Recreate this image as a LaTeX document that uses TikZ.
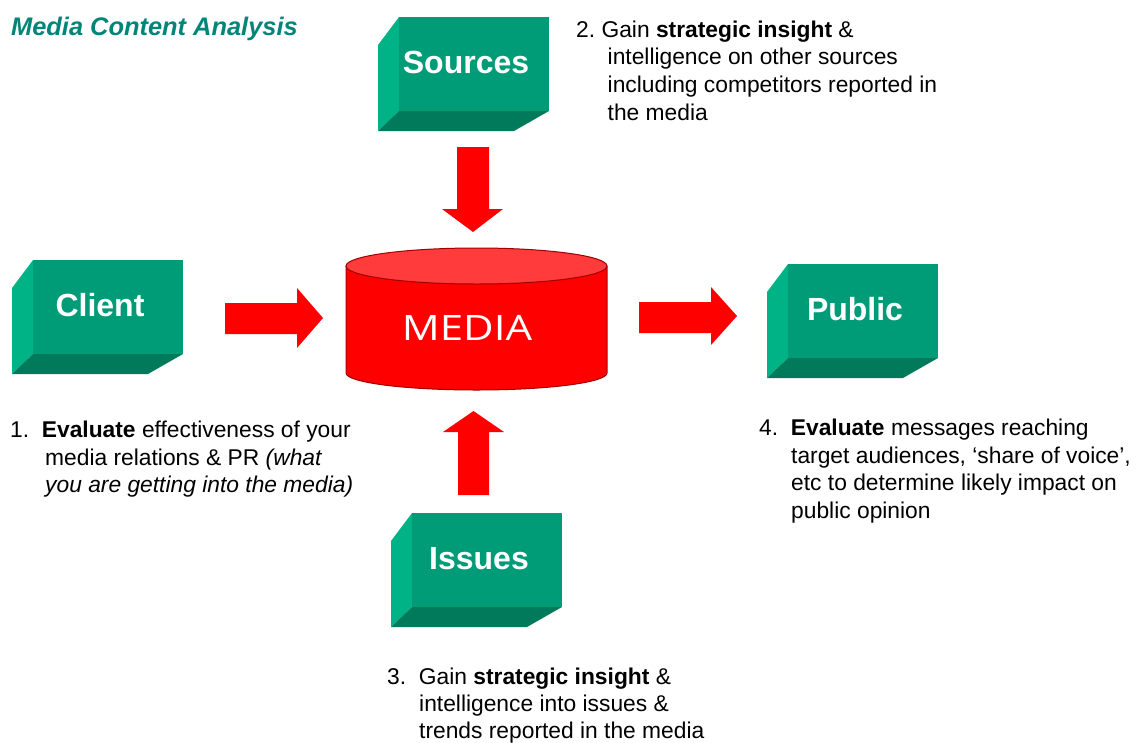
\documentclass[tikz,border=0pt]{standalone}
\usepackage{fontspec}
\usepackage{graphicx}
\setmainfont{Liberation Sans}
\newfontfamily\medfont{Open Sans}
\definecolor{gfront}{HTML}{009B77}
\definecolor{glight}{HTML}{00B386}
\definecolor{gdark}{HTML}{007A5A}
\definecolor{ttl}{HTML}{008578}
\definecolor{cyltop}{HTML}{FF3B3B}
\definecolor{cylline}{HTML}{A00000}
\tikzset{
  boxlabel/.style={text=white, font=\bfseries\fontsize{32}{32}\selectfont, inner sep=0pt},
  body/.style={anchor=base west, inner sep=0pt, font=\fontsize{22.8}{27.5}\selectfont},
  blockarrow/.style={fill=red, draw=none},
}
\newcommand\gbox[4]{%
  \fill[glight] (#2,#3) -- ++(-21,28) -- ++(0,86) -- ++(21,-20) -- cycle;
  \fill[gdark] (#2,#3+94) -- ++(150,0) -- ++(-35,20) -- ++(-136,0) -- cycle;
  \fill[gfront] (#2,#3) rectangle ++(150,94);
  \node[boxlabel] (#1) at (#2+67,#3+45.5) {#4};}
\begin{document}
\begin{tikzpicture}[x=1pt,y=-1pt]
\useasboundingbox (0,0) rectangle (1138,742);
% title
\node[anchor=base west, inner sep=0pt, text=ttl, font=\bfseries\itshape\fontsize{25.4}{25.4}\selectfont] (title) at (11,35) {Media Content Analysis};
% boxes
\gbox{sources}{399}{17}{Sources}
\gbox{client}{33}{260}{Client}
\gbox{public}{788}{264}{Public}
\gbox{issues}{412}{513}{Issues}
% cylinder
\fill[red] (346,266) rectangle (607,373);
\fill[red] (476.5,373) ellipse [x radius=130.5pt, y radius=17pt];
\draw[cylline, line width=1pt] (346,266) -- (346,373) arc[start angle=180, end angle=360, x radius=130.5pt, y radius=17pt] -- (607,266);
\filldraw[fill=cyltop, draw=cylline, line width=1pt] (476.5,266) ellipse [x radius=130.5pt, y radius=18pt];
\node[text=white, font=\medfont\fontsize{35}{35}\selectfont, inner sep=0pt] (media) at (467,328) {\scalebox{1.2}[1]{MEDIA}};
% block arrows
\fill[blockarrow] (225,303) -- (297,303) -- (297,288) -- (323,318) -- (297,348) -- (297,334) -- (225,334) -- cycle;
\fill[blockarrow] (639,302) -- (711,302) -- (711,287) -- (737,316) -- (711,345) -- (711,333) -- (639,333) -- cycle;
\fill[blockarrow] (457,147) -- (489,147) -- (489,209) -- (503,209) -- (473,232) -- (442,209) -- (457,209) -- cycle;
\fill[blockarrow] (458,495) -- (489,495) -- (489,432) -- (504,432) -- (473.5,411) -- (443,432) -- (458,432) -- cycle;
% text block 1
\node[body] (t1a) at (10,437.7) {1.\ \ \textbf{Evaluate} effectiveness of your};
\node[body] (t1b) at (45,465) {media relations \& PR \textit{(what}};
\node[body] (t1c) at (45,492.3) {\textit{you are getting into the media)}};
% text block 2
\node[body] (t2a) at (576,37) {2.\ Gain \textbf{strategic insight} \&};
\node[body] (t2b) at (607.5,64.8) {intelligence on other sources};
\node[body] (t2c) at (607.5,92.5) {including competitors reported in};
\node[body] (t2d) at (607.5,120.3) {the media};
% text block 3
\node[body] (t3a) at (387,684) {3.\ \ Gain \textbf{strategic insight} \&};
\node[body] (t3b) at (419,711) {intelligence into issues \&};
\node[body] (t3c) at (419,738) {trends reported in the media};
% text block 4
\node[body] (t4a) at (759,435.5) {4.\ \ \textbf{Evaluate} messages reaching};
\node[body] (t4b) at (791,463) {target audiences, `share of voice',};
\node[body] (t4c) at (791,490.5) {etc to determine likely impact on};
\node[body] (t4d) at (791,518) {public opinion};
\end{tikzpicture}
\end{document}
